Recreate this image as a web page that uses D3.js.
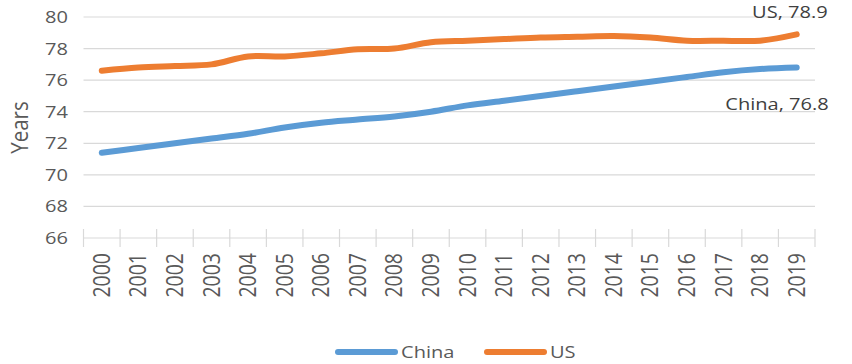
<!DOCTYPE html>
<html>
<head>
<meta charset="utf-8">
<script src="https://cdn.jsdelivr.net/npm/d3@7"></script>
<style>
  body { margin: 0; background: #fff; }
  svg { display: block; font-family: "Open Sans", Lato, sans-serif; }
</style>
</head>
<body>
<div id="chart"></div>
<script>
// Life expectancy, years
const years = ["2000","2001","2002","2003","2004","2005","2006","2007","2008","2009",
               "2010","2011","2012","2013","2014","2015","2016","2017","2018","2019"];
const china = [71.4, 71.7, 72.0, 72.3, 72.6, 73.0, 73.3, 73.5, 73.7, 74.0,
               74.4, 74.7, 75.0, 75.3, 75.6, 75.9, 76.2, 76.5, 76.7, 76.8];
const us = [76.6, 76.8, 76.9, 77.0, 77.5, 77.5, 77.7, 77.95, 78.0, 78.4,
            78.5, 78.6, 78.7, 78.75, 78.8, 78.7, 78.5, 78.5, 78.5, 78.9];
const yTicks = [66, 68, 70, 72, 74, 76, 78, 80];

const width = 852, height = 364;
const margin = { top: 17, right: 37, bottom: 126, left: 83.5 };
const stretch = 1.18; // source picture is a bit wide, text looks stretched
const fontSize = 17;

const svg = d3.select("#chart")
  .append("svg")
  .attr("width", width)
  .attr("height", height);

const x = d3.scaleBand()
  .domain(years)
  .range([margin.left, width - margin.right]);

const y = d3.scaleLinear()
  .domain([66, 80])
  .range([height - margin.bottom, margin.top]);

// gridlines
svg.append("g")
  .selectAll("line")
  .data(yTicks.slice(1))
  .join("line")
  .attr("x1", margin.left)
  .attr("x2", width - margin.right)
  .attr("y1", (d) => y(d))
  .attr("y2", (d) => y(d))
  .attr("stroke", "#d9d9d9")
  .attr("stroke-width", 1.2);

// y tick labels
svg.append("g")
  .selectAll("text")
  .data(yTicks)
  .join("text")
  .attr("transform", (d) => `translate(68,${y(d)}) scale(${stretch},1)`)
  .attr("dy", "0.35em")
  .attr("text-anchor", "end")
  .attr("font-size", fontSize)
  .attr("fill", "#595959")
  .text((d) => d);

svg.append("text")
  .attr("transform", `translate(20,${(y(66) + y(80)) / 2}) rotate(-90) scale(1,${stretch})`)
  .attr("dy", "0.35em")
  .attr("text-anchor", "middle")
  .attr("font-size", 20.5)
  .attr("fill", "#595959")
  .text("Years");

// x axis, Excel-style crossing ticks
const xAxis = svg.append("g");
xAxis.append("line")
  .attr("x1", margin.left)
  .attr("x2", width - margin.right)
  .attr("y1", y(66))
  .attr("y2", y(66))
  .attr("stroke", "#d9d9d9")
  .attr("stroke-width", 1.2);

const tickPos = years.map((d) => x(d)).concat([x(years[years.length - 1]) + x.bandwidth()]);
xAxis.selectAll(".tick")
  .data(tickPos)
  .join("line")
  .attr("class", "tick")
  .attr("x1", (d) => d)
  .attr("x2", (d) => d)
  .attr("y1", y(66) - 9)
  .attr("y2", y(66) + 9)
  .attr("stroke", "#d9d9d9")
  .attr("stroke-width", 1.2);

xAxis.selectAll("text")
  .data(years)
  .join("text")
  .attr("transform", (d) => `translate(${x(d) + x.bandwidth() / 2},253) rotate(-90) scale(1,${stretch})`)
  .attr("dy", "0.35em")
  .attr("text-anchor", "end")
  .attr("font-size", 19.5)
  .attr("fill", "#595959")
  .text((d) => d);

// lines
const line = d3.line()
  .x((d, i) => x(years[i]) + x.bandwidth() / 2)
  .y((d) => y(d))
  .curve(d3.curveCatmullRom);

const series = [
  { name: "China", values: china, color: "#5b9bd5" },
  { name: "US", values: us, color: "#ed7d31" },
];

svg.append("g")
  .selectAll("path")
  .data(series)
  .join("path")
  .attr("d", (d) => line(d.values))
  .attr("fill", "none")
  .attr("stroke", (d) => d.color)
  .attr("stroke-width", 6)
  .attr("stroke-linecap", "round")
  .attr("stroke-linejoin", "round");

// end labels
const lastX = x(years[years.length - 1]) + x.bandwidth() / 2;
svg.append("text")
  .attr("transform", `translate(${lastX + 31},${y(us[us.length - 1]) - 16}) scale(${stretch},1)`)
  .attr("text-anchor", "end")
  .attr("font-size", fontSize)
  .attr("fill", "#404040")
  .text(`US, ${us[us.length - 1]}`);

svg.append("text")
  .attr("transform", `translate(${lastX + 32},${y(china[china.length - 1]) + 42}) scale(${stretch},1)`)
  .attr("text-anchor", "end")
  .attr("font-size", fontSize)
  .attr("fill", "#404040")
  .text(`China, ${china[china.length - 1]}`);

// legend
const legendX = [338, 487];
const legend = svg.append("g")
  .selectAll("g")
  .data(series)
  .join("g")
  .attr("transform", (d, i) => `translate(${legendX[i]},352)`);

legend.append("line")
  .attr("x1", 0)
  .attr("x2", 57)
  .attr("stroke", (d) => d.color)
  .attr("stroke-width", 6)
  .attr("stroke-linecap", "round");

legend.append("text")
  .attr("transform", `translate(63,0) scale(${stretch},1)`)
  .attr("dy", "0.35em")
  .attr("font-size", fontSize)
  .attr("fill", "#595959")
  .text((d) => d.name);
</script>
</body>
</html>
